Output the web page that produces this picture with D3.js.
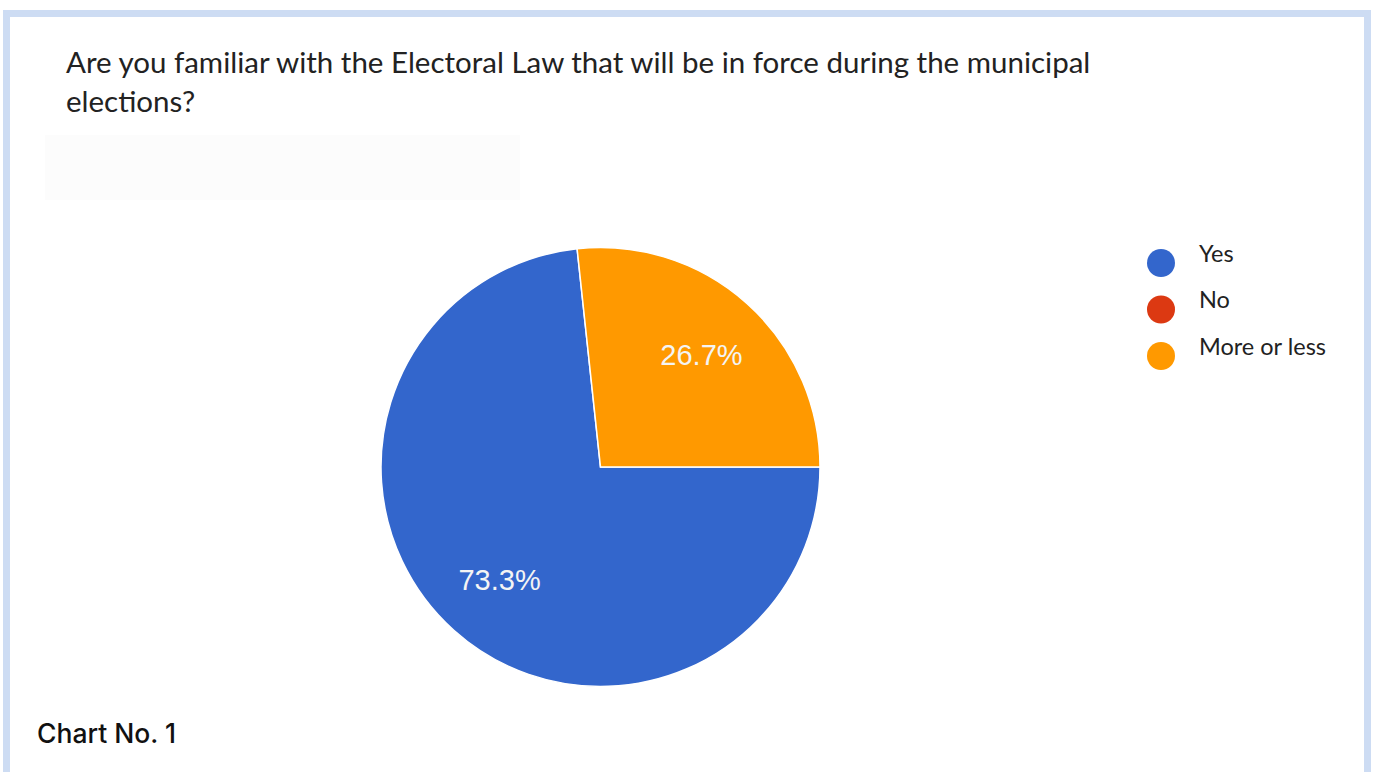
<!DOCTYPE html>
<html>
<head>
<meta charset="utf-8">
<script src="https://cdn.jsdelivr.net/npm/d3@7"></script>
<style>
  html, body { margin: 0; padding: 0; background: #ffffff; }
  svg { display: block; }
</style>
</head>
<body>
<script>
// ---- data ----
const categories = ["Yes", "No", "More or less"];
const values = [73.3, 0, 26.7];
const colors = ["#3366cc", "#dc3912", "#ff9900"];
const labels = ["73.3%", "", "26.7%"];
const titleLines = ["Are you familiar with the Electoral Law that will be in force during the municipal", "elections?"];
const caption = "Chart No. 1";

const W = 1374, H = 772;
const svg = d3.select("body").append("svg").attr("width", W).attr("height", H);

// frame
svg.append("rect").attr("x", 0).attr("y", 0).attr("width", W).attr("height", H).attr("fill", "#ffffff");
svg.append("rect").attr("x", 6.5).attr("y", 13.5).attr("width", 1361).attr("height", 770)
  .attr("fill", "none").attr("stroke", "#cddcf3").attr("stroke-width", 7);
// faint placeholder box
svg.append("rect").attr("x", 45).attr("y", 135).attr("width", 475).attr("height", 65).attr("fill", "#fcfcfc");

// title
const title = svg.append("text").attr("font-family", "Lato, 'Open Sans', sans-serif")
  .attr("font-size", 29.5).attr("fill", "#222");
titleLines.forEach((t, i) => {
  title.append("tspan").attr("x", 66).attr("y", 73 + i * 39).text(t);
});

// pie
const cx = 600.5, cy = 467, r = 219.5;
const pie = d3.pie().sort(null).value(d => d.v)
  .startAngle(Math.PI / 2).endAngle(Math.PI / 2 + 2 * Math.PI);
const data = categories.map((c, i) => ({ c, v: values[i], col: colors[i], lab: labels[i] }));
const arcs = pie(data);
const arc = d3.arc().innerRadius(0).outerRadius(r);
const labelArc = d3.arc().innerRadius(151).outerRadius(151);

const g = svg.append("g").attr("transform", `translate(${cx},${cy})`);
g.selectAll("path").data(arcs.filter(d => d.data.v > 0)).join("path")
  .attr("d", arc).attr("fill", d => d.data.col)
  .attr("stroke", "#ffffff").attr("stroke-width", 1.5);

g.selectAll("text.lab").data(arcs.filter(d => d.data.v > 0)).join("text")
  .attr("class", "lab")
  .attr("transform", d => `translate(${labelArc.centroid(d)})`)
  .attr("text-anchor", "middle").attr("dy", "0.36em")
  .attr("font-family", "'Liberation Sans', Arial, sans-serif").attr("font-size", 29)
  .attr("fill", "#f4f4f4")
  .text(d => d.data.lab);

// legend
const leg = svg.append("g").attr("transform", "translate(1161,263)");
const li = leg.selectAll("g").data(data).join("g")
  .attr("transform", (d, i) => `translate(0,${i * 46.5})`);
li.append("circle").attr("r", 14).attr("fill", d => d.col);
li.append("text").attr("x", 38).attr("y", -1.5)
  .attr("font-family", "Lato, 'Open Sans', sans-serif").attr("font-size", 23.5).attr("fill", "#222")
  .text(d => d.c);

// caption
svg.append("text").attr("x", 37).attr("y", 743)
  .attr("font-family", "Inter, 'Open Sans', sans-serif").attr("font-weight", 500)
  .attr("font-size", 26.5).attr("fill", "#111").text(caption);
</script>
</body>
</html>
